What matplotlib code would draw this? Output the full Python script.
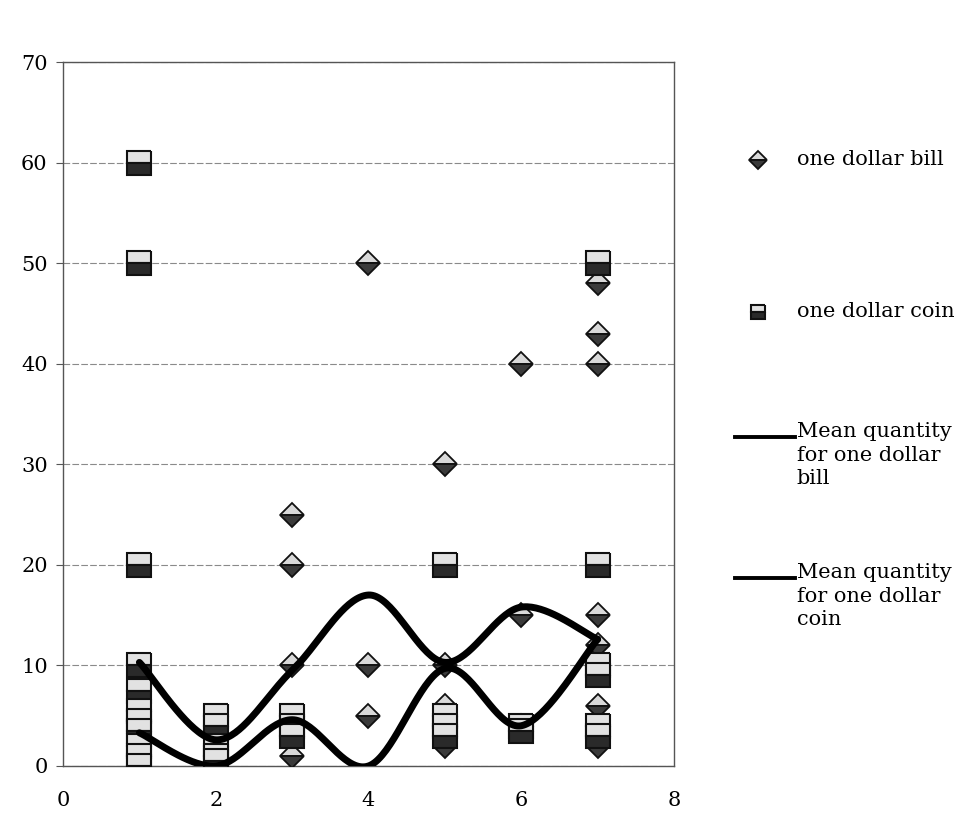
import numpy as np
import matplotlib
matplotlib.use('Agg')
import matplotlib.pyplot as plt
from matplotlib.lines import Line2D

plt.rcParams['font.family'] = 'DejaVu Serif'

# Individual responses (x = group, y = quantity)
bill_x = [1, 1, 1, 2, 2, 3, 3, 3, 3, 3, 4, 4, 4, 5, 5, 5, 5, 6, 6, 6,
          7, 7, 7, 7, 7, 7, 7, 7]
bill_y = [5, 3, 0, 2, 0, 25, 20, 10, 3, 1, 50, 10, 5, 30, 10, 6, 2, 40, 15, 4,
          48, 43, 40, 15, 12, 6, 3, 2]

coin_x = [1, 1, 1, 1, 1, 1, 1, 1, 1, 1, 1, 2, 2, 2, 2, 2, 3, 3, 3,
          5, 5, 5, 5, 6, 6, 7, 7, 7, 7, 7, 7]
coin_y = [60, 50, 20, 10, 7.5, 5.5, 4.5, 3.5, 2, 1, 0, 5, 4, 2, 1, 0.5, 5, 4, 3,
          20, 5, 4, 3, 4, 3.5, 50, 20, 10, 9, 4, 3]

# Group means
mean_x = [1, 2, 3, 4, 5, 6, 7]
bill_mean = [10.3, 2.6, 9.5, 17.0, 10.3, 15.8, 12.6]
coin_mean = [3.3, 0.0, 4.6, 0.0, 9.7, 4.0, 12.6]


def smooth(xs, ys, n=40):
    # Excel-style smoothed line: cubic Bezier through each point,
    # control points from neighbouring slopes (Catmull-Rom)
    p = np.column_stack([xs, ys]).astype(float)
    p = np.vstack([p[0], p, p[-1]])
    out = []
    t = np.linspace(0, 1, n)[:, None]
    for i in range(1, len(p) - 2):
        p0, p3 = p[i], p[i + 1]
        c1 = p0 + (p[i + 1] - p[i - 1]) / 6
        c2 = p3 - (p[i + 2] - p[i]) / 6
        seg = ((1 - t) ** 3) * p0 + 3 * ((1 - t) ** 2) * t * c1 \
            + 3 * (1 - t) * t ** 2 * c2 + t ** 3 * p3
        out.append(seg if i == 1 else seg[1:])
    seg = np.vstack(out)
    return seg[:, 0], seg[:, 1]


fig = plt.figure(figsize=(9.59, 8.16), dpi=100)
ax = fig.add_axes([0.0657, 0.0613, 0.6371, 0.8627])

bill_style = dict(marker='D', markersize=12, linestyle='none', fillstyle='top',
                  markerfacecolor='#d9d9d9', markerfacecoloralt='#3a3a3a',
                  markeredgecolor='#111111', markeredgewidth=1.3)
coin_style = dict(marker='s', markersize=17.5, linestyle='none', fillstyle='top',
                  markerfacecolor='#e2e2e2', markerfacecoloralt='#2a2a2a',
                  markeredgecolor='#111111', markeredgewidth=1.5)

for x, y in zip(bill_x, bill_y):
    ax.plot([x], [y], zorder=3, **bill_style)
for x, y in zip(coin_x, coin_y):
    ax.plot([x], [y], zorder=3, **coin_style)

sx, sy = smooth(mean_x, bill_mean)
ax.plot(sx, sy, color='black', linewidth=5, solid_capstyle='round', zorder=4)
sx, sy = smooth(mean_x, coin_mean)
ax.plot(sx, sy, color='black', linewidth=5, solid_capstyle='round', zorder=4)

ax.set_xlim(0, 8)
ax.set_ylim(0, 70)
ax.set_xticks([0, 2, 4, 6, 8])
ax.set_yticks(range(0, 80, 10))
ax.yaxis.grid(True, color='#8a8a8a', linewidth=0.8, linestyle=(0, (6, 2)))
ax.set_axisbelow(True)
for s in ax.spines.values():
    s.set_color('#555555')
    s.set_linewidth(1.0)
ax.tick_params(axis='both', labelsize=15, length=5, color='#555555', pad=6)
ax.tick_params(axis='x', length=0, pad=18)

# Legend on the right
mx, tx = 0.790, 0.831
fig.add_artist(Line2D([mx], [0.804], transform=fig.transFigure,
                      **{**bill_style, 'markersize': 9}))
fig.text(tx, 0.804, 'one dollar bill', fontsize=15, va='center', ha='left')
fig.add_artist(Line2D([mx], [0.618], transform=fig.transFigure,
                      **{**coin_style, 'markersize': 10}))
fig.text(tx, 0.618, 'one dollar coin', fontsize=15, va='center', ha='left')

for y0, lab in [(0.4645, 'Mean quantity\nfor one dollar\nbill'),
                (0.2917, 'Mean quantity\nfor one dollar\ncoin')]:
    fig.add_artist(Line2D([0.766, 0.829], [y0, y0], transform=fig.transFigure,
                          color='black', linewidth=2.8))
    fig.text(tx, y0 + 0.018, lab, fontsize=15, va='top', ha='left',
             linespacing=1.3)

fig.savefig('out.png', dpi=100)
